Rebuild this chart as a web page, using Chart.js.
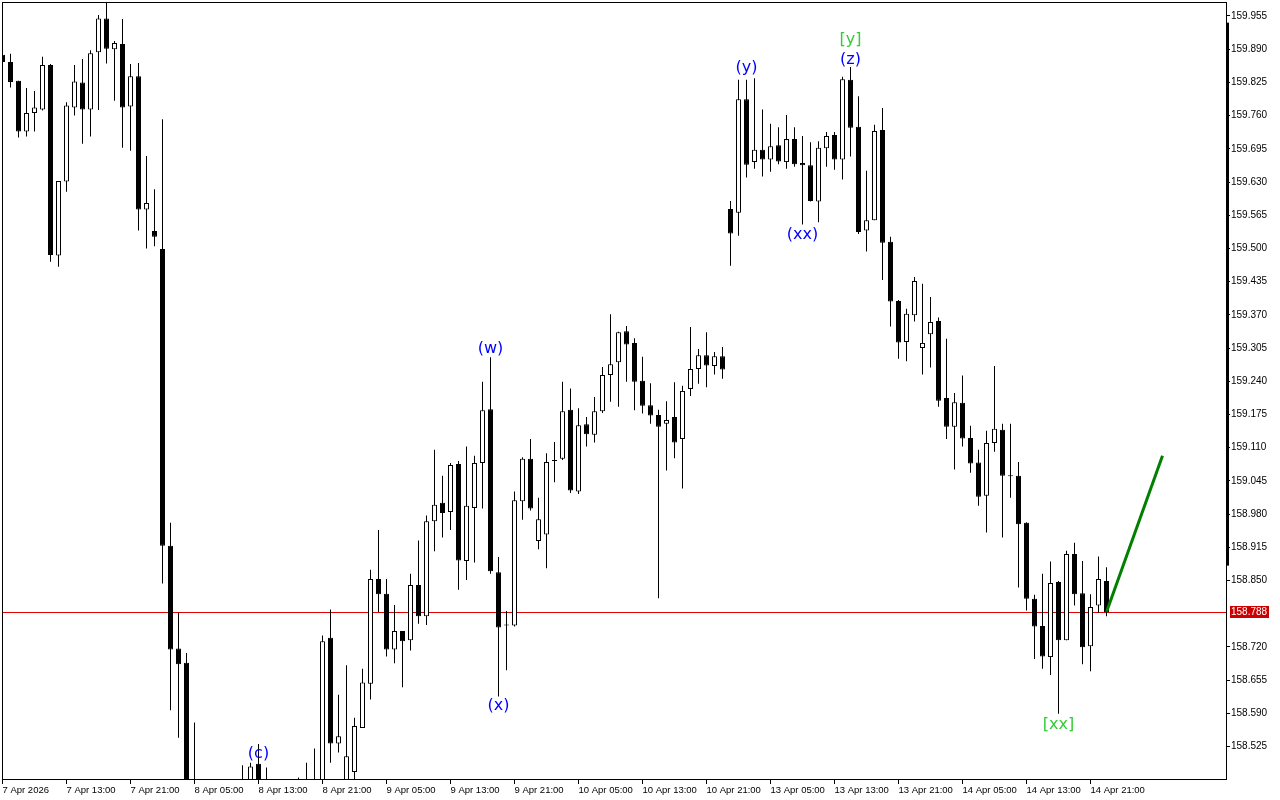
<!DOCTYPE html>
<html>
<head>
<meta charset="utf-8">
<title>H1 candles</title>
<script src="https://cdn.jsdelivr.net/npm/chart.js@4.4.1/dist/chart.umd.min.js"></script>
<style>
  html, body { margin: 0; padding: 0; background: #fff; }
  #wrap { width: 1280px; height: 800px; }
</style>
</head>
<body>
<div id="wrap"><canvas id="chart" width="1280" height="800"></canvas></div>
<script>
// H1 bars, index 0 = 7 Apr 05:00 (weekend removed)
const opens = [
  159.879, 159.865, 159.828, 159.729, 159.765, 159.772, 159.859, 159.486, 159.631, 159.776,
  159.825, 159.772, 159.884, 159.950, 159.890, 159.900, 159.778, 159.837, 159.576, 159.534,
  159.499, 158.918, 158.717, 158.689, 158.425, 158.360, 158.395, 158.410, 158.400, 158.430,
  158.440, 158.425, 158.491, 158.420, 158.440, 158.410, 158.430, 158.415, 158.440, 158.450,
  158.445, 158.738, 158.531, 158.450, 158.475, 158.561, 158.648, 158.853, 158.824, 158.715,
  158.751, 158.733, 158.841, 158.780, 158.966, 159.002, 158.984, 159.078, 158.888, 158.992,
  159.080, 159.185, 158.866, 158.763, 158.762, 159.005, 159.088, 158.927, 158.940, 159.084,
  159.088, 159.184, 159.024, 159.156, 159.135, 159.181, 159.252, 159.277, 159.338, 159.315,
  159.241, 159.193, 159.174, 159.157, 159.170, 159.127, 159.225, 159.264, 159.291, 159.270,
  159.289, 159.577, 159.570, 159.792, 159.669, 159.693, 159.674, 159.702, 159.669, 159.714,
  159.667, 159.663, 159.592, 159.696, 159.722, 159.674, 159.830, 159.738, 159.535, 159.555,
  159.732, 159.513, 159.397, 159.317, 159.369, 159.305, 159.332, 159.358, 159.207, 159.151,
  159.198, 159.129, 159.081, 159.016, 159.119, 159.145, 159.055, 159.055, 158.963, 158.814,
  158.761, 158.700, 158.847, 158.733, 158.902, 158.825, 158.721, 158.801, 158.849
]
const highs = [
  159.883, 159.881, 159.828, 159.814, 159.808, 159.875, 159.861, 159.632, 159.786, 159.859,
  159.871, 159.888, 159.957, 159.990, 159.906, 159.949, 159.861, 159.863, 159.681, 159.616,
  159.753, 158.963, 158.787, 158.708, 158.572, 158.420, 158.430, 158.440, 158.445, 158.450,
  158.488, 158.493, 158.530, 158.484, 158.455, 158.445, 158.455, 158.464, 158.493, 158.521,
  158.742, 158.793, 158.626, 158.684, 158.581, 158.677, 158.871, 158.949, 158.853, 158.802,
  158.751, 158.863, 158.928, 158.977, 159.106, 159.055, 159.080, 159.084, 159.112, 159.094,
  159.239, 159.287, 158.896, 158.790, 159.024, 159.091, 159.127, 159.012, 159.099, 159.121,
  159.239, 159.226, 159.187, 159.170, 159.209, 159.268, 159.371, 159.337, 159.348, 159.324,
  159.288, 159.236, 159.184, 159.201, 159.238, 159.231, 159.346, 159.303, 159.336, 159.297,
  159.307, 159.593, 159.830, 159.830, 159.833, 159.772, 159.744, 159.737, 159.761, 159.737,
  159.720, 159.708, 159.710, 159.728, 159.728, 159.836, 159.855, 159.798, 159.652, 159.742,
  159.775, 159.523, 159.399, 159.382, 159.444, 159.431, 159.405, 159.365, 159.323, 159.217,
  159.251, 159.153, 159.106, 159.143, 159.270, 159.157, 159.157, 159.082, 158.964, 158.822,
  158.863, 158.887, 158.849, 158.908, 158.924, 158.888, 158.823, 158.897, 158.876
]
const lows = [
  159.861, 159.815, 159.717, 159.719, 159.729, 159.770, 159.474, 159.464, 159.611, 159.760,
  159.705, 159.719, 159.771, 159.862, 159.789, 159.697, 159.691, 159.535, 159.500, 159.504,
  158.844, 158.596, 158.542, 158.400, 158.340, 158.330, 158.370, 158.380, 158.385, 158.400,
  158.410, 158.410, 158.400, 158.390, 158.400, 158.380, 158.400, 158.400, 158.420, 158.425,
  158.430, 158.493, 158.513, 158.440, 158.456, 158.561, 158.617, 158.788, 158.701, 158.688,
  158.641, 158.713, 158.765, 158.763, 158.907, 158.934, 158.949, 158.832, 158.851, 158.885,
  158.991, 158.863, 158.623, 158.674, 158.760, 158.969, 158.987, 158.911, 158.874, 159.042,
  159.086, 159.021, 159.019, 159.112, 159.120, 159.178, 159.200, 159.190, 159.239, 159.183,
  159.177, 159.157, 158.815, 159.065, 159.089, 159.030, 159.211, 159.235, 159.228, 159.253,
  159.245, 159.466, 159.525, 159.639, 159.656, 159.641, 159.650, 159.665, 159.656, 159.660,
  159.547, 159.592, 159.551, 159.660, 159.654, 159.635, 159.680, 159.528, 159.494, 159.555,
  159.438, 159.347, 159.284, 159.279, 159.357, 159.253, 159.267, 159.190, 159.127, 159.067,
  159.112, 159.061, 158.996, 158.944, 159.102, 158.934, 159.012, 158.836, 158.791, 158.696,
  158.677, 158.665, 158.589, 158.733, 158.801, 158.686, 158.672, 158.787, 158.780
]
const closes = [
  159.865, 159.826, 159.729, 159.765, 159.776, 159.859, 159.487, 159.632, 159.780, 159.827,
  159.772, 159.882, 159.950, 159.891, 159.902, 159.776, 159.837, 159.576, 159.589, 159.523,
  158.918, 158.715, 158.686, 158.421, 158.360, 158.395, 158.410, 158.400, 158.430, 158.440,
  158.425, 158.486, 158.420, 158.440, 158.410, 158.430, 158.415, 158.440, 158.450, 158.445,
  158.731, 158.531, 158.545, 158.506, 158.565, 158.650, 158.853, 158.823, 158.715, 158.751,
  158.731, 158.841, 158.780, 158.966, 158.998, 158.982, 159.076, 158.889, 158.996, 159.080,
  159.183, 158.868, 158.758, 158.762, 159.007, 159.088, 158.991, 158.970, 159.082, 159.085,
  159.181, 159.026, 159.154, 159.136, 159.181, 159.252, 159.273, 159.336, 159.312, 159.239,
  159.192, 159.173, 159.151, 159.164, 159.120, 159.221, 159.264, 159.291, 159.271, 159.289,
  159.263, 159.529, 159.792, 159.664, 159.693, 159.674, 159.700, 159.670, 159.714, 159.665,
  159.663, 159.593, 159.697, 159.720, 159.674, 159.831, 159.736, 159.532, 159.555, 159.730,
  159.511, 159.396, 159.316, 159.372, 159.436, 159.315, 159.356, 159.202, 159.151, 159.199,
  159.128, 159.079, 159.014, 159.119, 159.147, 159.055, 159.054, 158.960, 158.814, 158.760,
  158.701, 158.845, 158.733, 158.902, 158.823, 158.719, 158.798, 158.853, 158.788
]

const tickBars = [0, 8, 16, 24, 32, 40, 48, 56, 64, 72, 80, 88, 96, 104, 112, 120, 128, 136]
const tickLabels = ['7 Apr 2026', '7 Apr 13:00', '7 Apr 21:00', '8 Apr 05:00', '8 Apr 13:00', '8 Apr 21:00',
  '9 Apr 05:00', '9 Apr 13:00', '9 Apr 21:00', '10 Apr 05:00', '10 Apr 13:00', '10 Apr 21:00',
  '13 Apr 05:00', '13 Apr 13:00', '13 Apr 21:00', '14 Apr 05:00', '14 Apr 13:00', '14 Apr 21:00']
const priceTicks = [159.955, 159.890, 159.825, 159.760, 159.695, 159.630, 159.565, 159.500, 159.435,
  159.370, 159.305, 159.240, 159.175, 159.110, 159.045, 158.980, 158.915, 158.850,
  158.720, 158.655, 158.590, 158.525]
const lastPrice = 158.788

// wave marks
const waveText = ['(c)', '(w)', '(x)', '(y)', '(xx)', '(z)', '[y]', '[xx]']
const waveBar = [32, 61, 62, 93, 100, 106, 106, 132]
const wavePrice = [158.511, 159.303, 158.604, 159.854, 159.527, 159.870, 159.909, 158.567]
const waveColor = ['#0000ff', '#0000ff', '#0000ff', '#0000ff', '#0000ff', '#0000ff', '#32cd32', '#32cd32']

// projected leg
const forecastBars = [138, 145]
const forecastPrices = [158.788, 159.094]

// right-axis marker band
const bandTop = 159.942, bandBottom = 158.879

const xMin = -0.0625, xMax = 152.9375
const yMin = 158.4613, yMax = 159.9824

const bodies = opens.map((o, i) => ({ x: i, y: [Math.min(o, closes[i]), Math.max(o, closes[i])] }))
const bodyColors = opens.map((o, i) => closes[i] >= o ? '#ffffff' : '#000000')
const wicks = lows.map((l, i) => ({ x: i, y: [l, highs[i]] }))
const forecast = forecastBars.map((b, i) => ({ x: b, y: forecastPrices[i] }))

const overlay = {
  id: 'overlay',
  beforeDatasetsDraw(chart) {
    const { ctx, chartArea: a, scales: { y } } = chart
    const py = Math.round(y.getPixelForValue(lastPrice)) + 0.5
    ctx.save()
    ctx.strokeStyle = '#e00000'; ctx.lineWidth = 1
    ctx.beginPath(); ctx.moveTo(a.left, py); ctx.lineTo(a.right, py); ctx.stroke()
    ctx.restore()
  },
  afterDatasetsDraw(chart) {
    const { ctx, scales: { x, y } } = chart
    ctx.save()
    ctx.font = '16px "DejaVu Sans"'; ctx.textAlign = 'center'; ctx.textBaseline = 'middle'
    waveText.forEach((t, i) => {
      ctx.fillStyle = waveColor[i]
      ctx.fillText(t, x.getPixelForValue(waveBar[i]), y.getPixelForValue(wavePrice[i]))
    })
    ctx.restore()
  },
  afterDraw(chart) {
    const { ctx, chartArea: a, scales: { y } } = chart
    ctx.save()
    ctx.strokeStyle = '#000'; ctx.lineWidth = 1
    ctx.strokeRect(a.left + 0.5, a.top + 0.5, a.right - a.left, a.bottom - a.top)
    // thick marker on the price scale
    const t = y.getPixelForValue(bandTop), b = y.getPixelForValue(bandBottom)
    ctx.fillStyle = '#000'; ctx.fillRect(a.right, t, 3, b - t)
    // last price label
    const py = Math.round(y.getPixelForValue(lastPrice))
    ctx.fillStyle = '#cc0000'; ctx.fillRect(a.right + 4, py - 6, 39, 12)
    ctx.fillStyle = '#fff'; ctx.font = '10px "Liberation Sans"'; ctx.textAlign = 'left'; ctx.textBaseline = 'middle'
    ctx.fillText(lastPrice.toFixed(3), a.right + 5, py + 0.5)
    ctx.restore()
  }
}

const ctx = document.getElementById('chart').getContext('2d')
new Chart(ctx, {
  type: 'bar',
  data: {
    datasets: [
      { type: 'line', data: forecast, borderColor: '#008000', borderWidth: 3, pointRadius: 0, order: 0 },
      { data: bodies, backgroundColor: bodyColors, borderColor: '#000', borderWidth: 1, borderSkipped: false,
        barThickness: 5, minBarLength: 1, grouped: false, inflateAmount: 0, clip: 0, order: 1 },
      { data: wicks, backgroundColor: '#000', borderWidth: 0, barThickness: 1, grouped: false,
        inflateAmount: 0, clip: 0, order: 2 }
    ]
  },
  options: {
    responsive: false, animation: false, devicePixelRatio: 1,
    layout: { padding: { left: 2, top: 2, right: 0, bottom: 0 } },
    plugins: { legend: { display: false }, tooltip: { enabled: false } },
    scales: {
      x: {
        type: 'linear', min: xMin, max: xMax, offset: false,
        afterBuildTicks: s => { s.ticks = tickBars.map(v => ({ value: v })) },
        afterFit: s => { s.height = 21; s.paddingLeft = 0; s.paddingRight = 0 },
        grid: { drawOnChartArea: false, offset: false, tickLength: 5, color: '#000' },
        border: { display: false },
        ticks: { autoSkip: false, maxRotation: 0, minRotation: 0, align: 'start', padding: 1, color: '#000',
          font: { family: 'Liberation Sans', size: 9.5 }, callback: (v, i) => tickLabels[i] }
      },
      y: {
        position: 'right', min: yMin, max: yMax,
        afterBuildTicks: s => { s.ticks = priceTicks.map(v => ({ value: v })) },
        afterFit: s => { s.width = 54; s.paddingTop = 0; s.paddingBottom = 0 },
        grid: { drawOnChartArea: false, tickLength: 4, color: '#000' },
        border: { display: false },
        ticks: { padding: 1, color: '#000', font: { family: 'Liberation Sans', size: 10 },
          callback: v => Number(v).toFixed(3) }
      }
    }
  },
  plugins: [overlay]
})
</script>
</body>
</html>
